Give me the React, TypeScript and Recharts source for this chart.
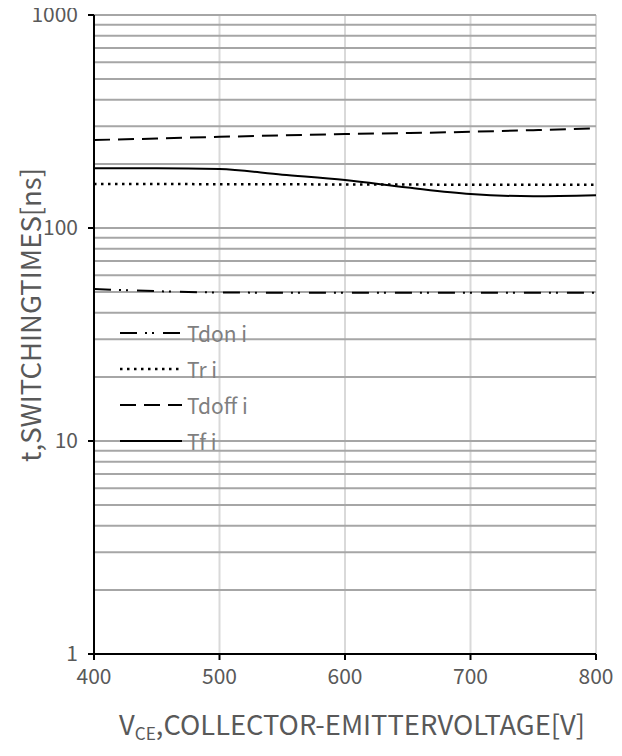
import React from "react";
import { LineChart, Line, XAxis, YAxis, CartesianGrid, ReferenceLine, Legend, Label } from "recharts";

const voltage = [400, 450, 500, 550, 600, 650, 700, 750, 800];
const tdon = [51.7, 50.5, 49.8, 49.7, 49.7, 49.7, 49.7, 49.7, 49.7];
const tr = [161, 161, 160.5, 160.5, 160, 160, 159.5, 159.5, 159.5];
const tdoff = [259, 263, 268, 272, 276, 279, 283, 288, 294];
const tf = [191, 191, 189, 178, 168, 155, 144.5, 141, 142.5];

const xTicks = [400, 500, 600, 700, 800];
const yTicks = [1, 10, 100, 1000];
const yGrid = [2, 3, 4, 5, 6, 7, 8, 9, 10, 20, 30, 40, 50, 60, 70, 80, 90, 100, 200, 300, 400, 500, 600, 700, 800, 900, 1000];

const seriesNames = ["Tdon i", "Tr i", "Tdoff i", "Tf i"];
const seriesKeys = ["tdon", "tr", "tdoff", "tf"];
const seriesDash = ["17 8 2 5 2 9", "2.5 4.5", "16 8", ""];

const data = voltage.map((v, i) => ({ v, tdon: tdon[i], tr: tr[i], tdoff: tdoff[i], tf: tf[i] }));

const FONT = "'Noto Sans CJK SC', 'Noto Sans', sans-serif";
const GRAY = "#595959";

const XTick = (props: any) => (
  <text x={props.x} y={props.y} dy={22} textAnchor="middle" fontFamily={FONT} fontSize={21} fill={GRAY}>
    {props.payload.value}
  </text>
);

const YTick = (props: any) => (
  <text x={props.x - 8} y={props.y} dy={7} textAnchor="end" fontFamily={FONT} fontSize={21} fill={GRAY}>
    {props.payload.value}
  </text>
);

const LegendContent = () => (
  <div style={{ fontFamily: FONT }}>
    {seriesNames.map((name, i) => (
      <div key={name} style={{ height: 36, display: "flex", alignItems: "center" }}>
        <svg width={62} height={10} style={{ display: "block" }}>
          <line x1={0} y1={5} x2={62} y2={5} stroke="#000" strokeWidth={i === 1 ? 2.5 : 2} strokeDasharray={seriesDash[i]} />
        </svg>
        <span style={{ marginLeft: 5, fontSize: 21, color: "#7f7f7f", lineHeight: "36px" }}>{name}</span>
      </div>
    ))}
  </div>
);

export default function App() {
  return (
    <div style={{ margin: "-8px 0 0 -8px", width: 622, height: 756 }}>
      <LineChart width={622} height={756} data={data} margin={{ top: 15, right: 26, bottom: 72, left: 34 }}>
        <CartesianGrid horizontal={false} stroke="#d9d9d9" strokeWidth={2} />
        {yGrid.map((g) => (
          <ReferenceLine key={g} y={g} stroke="#a6a6a6" strokeWidth={2} />
        ))}
        <XAxis
          type="number"
          dataKey="v"
          domain={[400, 800]}
          ticks={xTicks}
          axisLine={{ stroke: "#000", strokeWidth: 2 }}
          tickLine={{ stroke: "#000", strokeWidth: 2 }}
          tickSize={6}
          height={30}
          tick={XTick}
        >
          <Label
            content={() => (
              <text x={352} y={735} textAnchor="middle" fontFamily={FONT} fontSize={27} fill={GRAY} textLength={466} lengthAdjust="spacingAndGlyphs">
                <tspan>V</tspan>
                <tspan fontSize={17} dy={5}>CE</tspan>
                <tspan dy={-5}>,COLLECTOR-EMITTERVOLTAGE[V]</tspan>
              </text>
            )}
          />
        </XAxis>
        <YAxis
          scale="log"
          domain={[1, 1000]}
          ticks={yTicks}
          allowDataOverflow
          width={60}
          axisLine={{ stroke: "#000", strokeWidth: 2 }}
          tickLine={{ stroke: "#000", strokeWidth: 2 }}
          tickSize={6}
          tick={YTick}
        >
          <Label
            content={() => (
              <text x={29} y={315} transform="rotate(-90 29 315)" textAnchor="middle" dominantBaseline="central" fontFamily={FONT} fontSize={27} fill={GRAY} textLength={294} lengthAdjust="spacingAndGlyphs">
                t,SWITCHINGTIMES[ns]
              </text>
            )}
          />
        </YAxis>
        <Legend
          layout="vertical"
          align="center"
          verticalAlign="middle"
          content={LegendContent}
          wrapperStyle={{ position: "absolute", left: 120, top: 315, width: 200 }}
        />
        {seriesKeys.map((k, i) => (
          <Line
            key={k}
            dataKey={k}
            type="monotone"
            stroke="#000"
            strokeWidth={i === 1 ? 2.5 : 2}
            strokeDasharray={seriesDash[i] || undefined}
            dot={false}
            activeDot={false}
            isAnimationActive={false}
          />
        ))}
      </LineChart>
    </div>
  );
}
